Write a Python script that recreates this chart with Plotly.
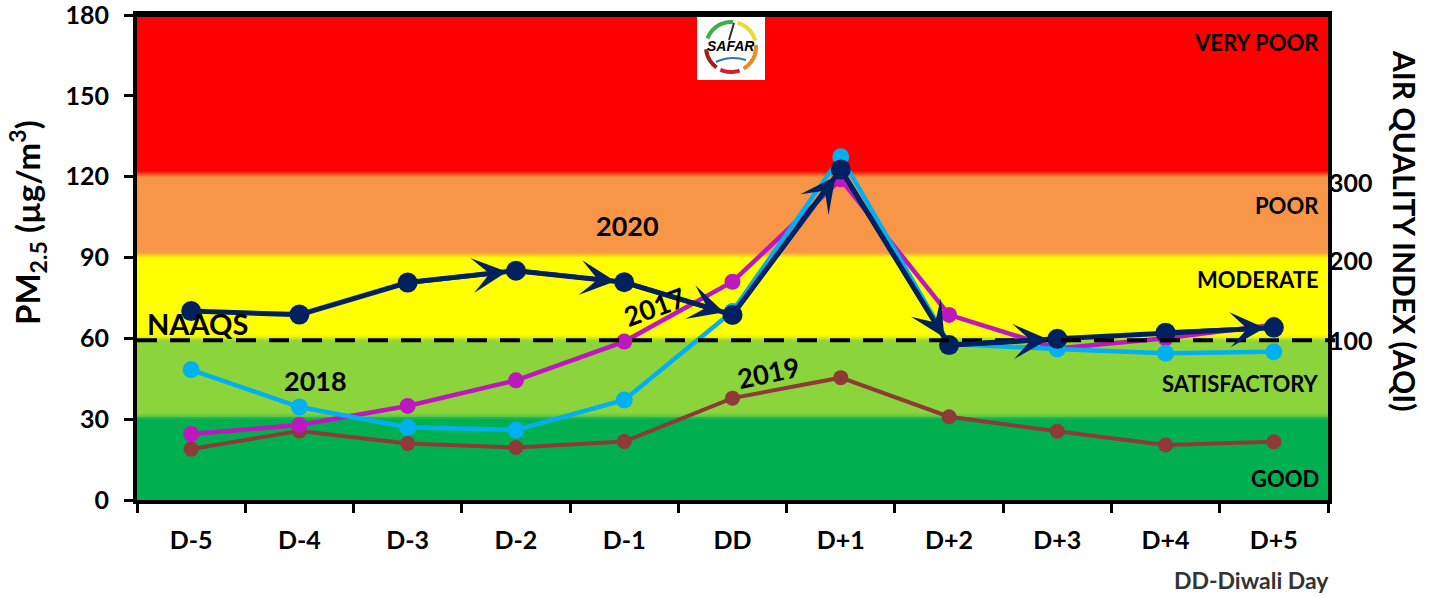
import numpy as np
import plotly.graph_objects as go

# ---------------- data ----------------
days = ["D-5", "D-4", "D-3", "D-2", "D-1", "DD", "D+1", "D+2", "D+3", "D+4", "D+5"]
pm_2017 = [24.5, 27.8, 34.9, 44.4, 58.8, 81.0, 119.0, 68.7, 56.2, 60.0, 65.0]
pm_2018 = [48.3, 34.5, 27.0, 26.0, 37.1, 70.0, 127.4, 58.0, 56.0, 54.5, 55.0]
pm_2019 = [18.9, 25.6, 21.0, 19.5, 21.7, 37.8, 45.4, 30.9, 25.5, 20.4, 21.6]
pm_2020 = [70.1, 68.8, 80.7, 85.1, 80.8, 68.7, 122.7, 57.5, 59.8, 62.1, 64.0]
arrow_into = [3, 4, 5, 6, 7, 8, 10]   # indices of 2020 points that get an arrowhead

naaqs = 59.3
band_edges = [0, 31, 60, 91, 121, 180]
band_colors = ["#00B050", "#8CD43C", "#FFFF00", "#F79646", "#FF0000"]
band_names = ["GOOD", "SATISFACTORY", "MODERATE", "POOR", "VERY POOR"]
band_label_y = [0.045, 0.241, 0.454, 0.608, 0.944]

y_ticks = [0, 30, 60, 90, 120, 150, 180]
aqi_tick_pm = [59, 88.5, 117.5]
aqi_tick_text = ["100", "200", "300"]

C2017, C2018, C2019, C2020 = "#BF17BF", "#00B0F0", "#8E3A38", "#002060"
FONT = "Lato"

# plot-area geometry (pixels) for decorations
L, R, T, B = 137, 1328, 15, 500
W, H = R - L, B - T
def px(x):
    return (x - L) / W
def py(y):
    return (B - y) / H

def hex2rgb(h):
    h = h.lstrip("#")
    return [int(h[k:k + 2], 16) for k in (0, 2, 4)]

fig = go.Figure()

def add_series(vals, color, lw, ms, name):
    fig.add_trace(go.Scatter(
        x=list(range(len(days))), y=vals, mode="lines+markers", name=name,
        line=dict(color=color, width=lw),
        marker=dict(color=color, size=ms),
        hoverinfo="skip", showlegend=False))

add_series(pm_2019, C2019, 4, 15, "2019")
add_series(pm_2017, C2017, 4.5, 16, "2017")
add_series(pm_2018, C2018, 4.5, 17, "2018")
add_series(pm_2020, C2020, 5, 20, "2020")
# invisible helper so that the AQI (right) axis is drawn
fig.add_trace(go.Scatter(x=list(range(len(days))), y=pm_2020, yaxis="y2", mode="lines",
                         line=dict(width=0), opacity=0, hoverinfo="skip",
                         showlegend=False))

shapes = []
for i in range(len(band_colors)):
    shapes.append(dict(type="rect", xref="paper", yref="y", x0=0, x1=1,
                       y0=band_edges[i], y1=band_edges[i + 1],
                       fillcolor=band_colors[i], line=dict(width=0), layer="below"))
# soft transitions between bands
nstep = 6
for i in range(1, len(band_colors)):
    lo, hi = np.array(hex2rgb(band_colors[i - 1])), np.array(hex2rgb(band_colors[i]))
    e = band_edges[i]
    span = 2.4
    for k in range(nstep):
        f = (k + 0.5) / nstep
        c = (lo * (1 - f) + hi * f).astype(int)
        shapes.append(dict(type="rect", xref="paper", yref="y", x0=0, x1=1,
                           y0=e - span / 2 + span * k / nstep,
                           y1=e - span / 2 + span * (k + 1) / nstep,
                           fillcolor=f"rgb({c[0]},{c[1]},{c[2]})",
                           line=dict(width=0), layer="below"))
# NAAQS dashed line
shapes.append(dict(type="line", xref="paper", yref="y", x0=0, x1=1.006,
                   y0=naaqs, y1=naaqs,
                   line=dict(color="black", width=4, dash="20px,13px"),
                   layer="above"))
# top frame line
shapes.append(dict(type="line", xref="paper", yref="paper", x0=-0.0017, x1=1.0017,
                   y0=1.0, y1=1.0, line=dict(color="black", width=4), layer="above"))

# SAFAR logo (approximation)
shapes.append(dict(type="rect", xref="paper", yref="paper", x0=px(697), x1=px(765),
                   y0=py(80), y1=py(17), fillcolor="white", line=dict(width=0)))
cx, cy, rr = 731, 47, 25
arcs = [(160, 85, "#3DAE49"), (75, 15, "#E5DF2B"), (5, -60, "#EE8A1F"),
        (-70, -115, "#D62027"), (-125, -175, "#A51C1C")]
for a0, a1, col in arcs:
    t = np.radians(np.linspace(a0, a1, 20))
    pts = [(px(cx + rr * np.cos(a)), py(cy - rr * np.sin(a))) for a in t]
    path = "M " + " L ".join(f"{a:.5f},{b:.5f}" for a, b in pts)
    shapes.append(dict(type="path", xref="paper", yref="paper", path=path,
                       line=dict(color=col, width=4)))
# needle
shapes.append(dict(type="line", xref="paper", yref="paper", x0=px(729), y0=py(40),
                   x1=px(734), y1=py(23), line=dict(color="#333333", width=2)))
# swoosh
shapes.append(dict(type="path", xref="paper", yref="paper",
                   path=f"M {px(716):.5f},{py(62):.5f} Q {px(730):.5f},{py(55):.5f} {px(746):.5f},{py(60):.5f}",
                   line=dict(color="#2E75B6", width=2)))

annotations = []
# arrows on 2020 line
for j in arrow_into:
    annotations.append(dict(x=j, y=pm_2020[j], ax=j - 1, ay=pm_2020[j - 1],
                            xref="x", yref="y", axref="x", ayref="y", text="",
                            showarrow=True, arrowhead=3, arrowsize=1.3, arrowwidth=4.5,
                            arrowcolor=C2020, standoff=9))
# band labels
for name, yy in zip(band_names, band_label_y):
    annotations.append(dict(x=0.994, y=yy, xref="paper", yref="paper", text=name,
                            xanchor="right", yanchor="middle", showarrow=False,
                            font=dict(family=FONT, size=22, color="black", weight="bold")))
# year labels
year_labels = [("2020", 4.03, 101.7, 0), ("2017", 4.28, 71.8, -20),
               ("2019", 5.33, 47.5, -12), ("2018", 1.15, 44.5, 0)]
for txt, xx, yy, ang in year_labels:
    annotations.append(dict(x=xx, y=yy, xref="x", yref="y", text=txt, textangle=ang,
                            showarrow=False,
                            font=dict(family=FONT, size=27, color="black", weight="bold")))
annotations.append(dict(x=-0.43, y=65.5, xref="x", yref="y", text="NAAQS", xanchor="left",
                        showarrow=False,
                        font=dict(family=FONT, size=29, color="black", weight="bold")))
# logo text
annotations.append(dict(x=px(731), y=py(46), xref="paper", yref="paper",
                        text="<i>SAFAR</i>", showarrow=False,
                        xanchor="center", yanchor="middle",
                        font=dict(family="Liberation Sans", size=14, color="black",
                                  weight="bold")))
# axis titles
annotations.append(dict(x=px(27), y=py(223), xref="paper", yref="paper",
                        xanchor="center", yanchor="middle",
                        text="PM<sub>2.5</sub> (µg/m<sup>3</sup>)", textangle=-90,
                        showarrow=False,
                        font=dict(family=FONT, size=33, color="black", weight="bold")))
annotations.append(dict(x=px(1405), y=py(230), xref="paper", yref="paper",
                        xanchor="center", yanchor="middle",
                        text="AIR QUALITY INDEX (AQI)", textangle=90, showarrow=False,
                        font=dict(family=FONT, size=30, color="black", weight="bold")))
annotations.append(dict(x=px(1331), y=py(580), xref="paper", yref="paper",
                        text="DD-Diwali Day", xanchor="right", yanchor="middle",
                        showarrow=False,
                        font=dict(family=FONT, size=23, color="#333333", weight="bold")))

fig.update_layout(
    width=1436, height=597,
    margin=dict(l=L, r=1436 - R, t=T, b=597 - B, autoexpand=False),
    paper_bgcolor="white", plot_bgcolor="white",
    shapes=shapes, annotations=annotations,
    xaxis=dict(tickmode="array", tickvals=list(range(len(days))), ticktext=days,
               range=[-0.5, len(days) - 0.5], automargin=False,
               ticks="outside", ticklen=15, tickwidth=1, tickcolor="rgba(0,0,0,0)",
               minor=dict(tickmode="array",
                          tickvals=[k - 0.5 for k in range(len(days) + 1)],
                          ticks="outside", ticklen=9, tickwidth=3, tickcolor="black",
                          showgrid=False),
               showline=True, linecolor="black", linewidth=4, mirror=True,
               showgrid=False, zeroline=False, ticklabeloverflow="allow",
               tickfont=dict(family=FONT, size=25, color="black", weight="bold")),
    yaxis=dict(range=[0, 180], tickvals=y_ticks, ticks="outside", ticklen=9,
               tickwidth=3, tickcolor="black", showline=True, linecolor="black",
               linewidth=4, mirror=True, showgrid=False, zeroline=False,
               automargin=False, ticklabelstandoff=10, ticklabeloverflow="allow",
               tickfont=dict(family=FONT, size=25, color="black", weight="bold")),
    yaxis2=dict(range=[0, 180], overlaying="y", side="right", tickvals=aqi_tick_pm,
                ticktext=aqi_tick_text, ticks="", showgrid=False, zeroline=False,
                showline=False, automargin=False, ticklabeloverflow="allow",
                tickfont=dict(family=FONT, size=25, color="black", weight="bold")),
)

fig.write_html("out.html", config={"displayModeBar": False},
               post_script="document.body.style.margin='0px';"
                           "document.documentElement.style.overflow='hidden';")
